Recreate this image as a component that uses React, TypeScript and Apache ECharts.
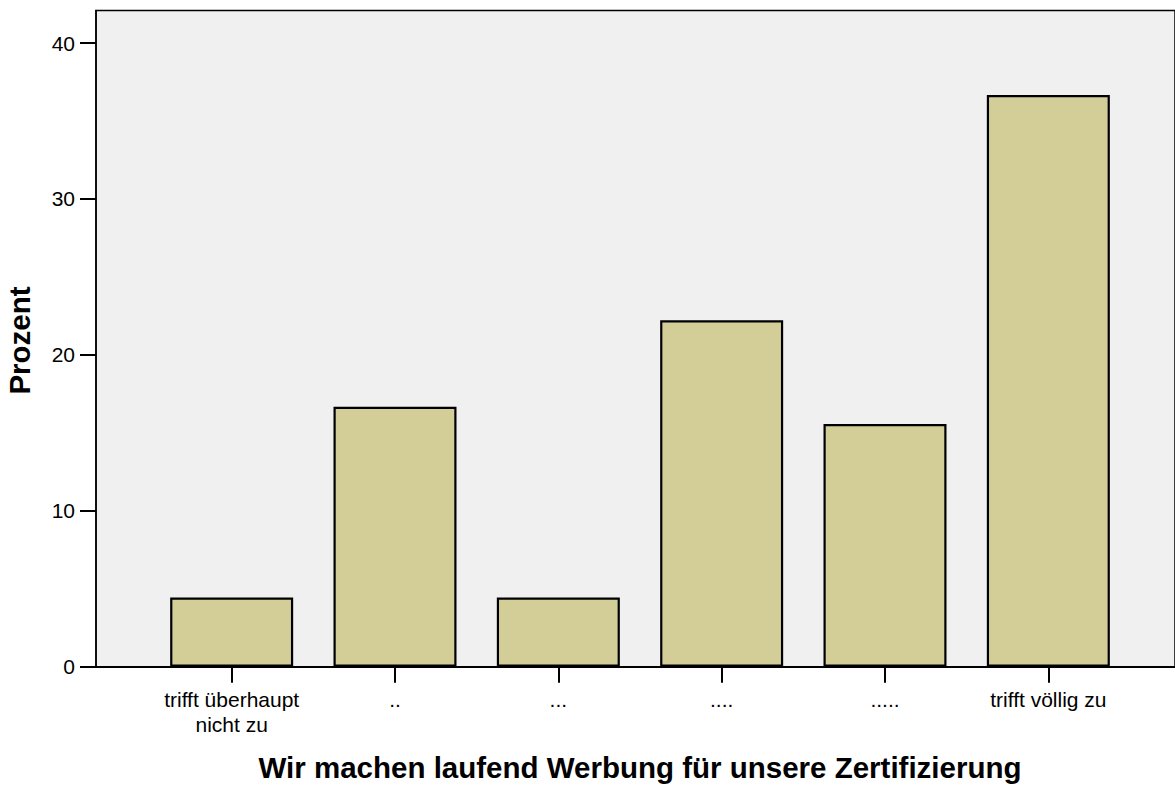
import React, { useEffect, useRef } from "react";
import * as echarts from "echarts";

const categories = [
  "trifft überhaupt\nnicht zu",
  "..",
  "...",
  "....",
  ".....",
  "trifft völlig zu",
];
const percentValues = [4.44, 16.67, 4.44, 22.22, 15.56, 36.67];
const yTickValues = [0, 10, 20, 30, 40];
const yAxisTitle = "Prozent";
const xAxisTitle = "Wir machen laufend Werbung für unsere Zertifizierung";

const FONT = "'Liberation Sans', Arial, Helvetica, sans-serif";
const Y_MAX = 42.09;

export default function App() {
  const ref = useRef<HTMLDivElement>(null);
  useEffect(() => {
    if (!ref.current) return;
    const chart = echarts.init(ref.current, null, { renderer: "svg" });
    chart.setOption({
      animation: false,
      backgroundColor: "#ffffff",
      grid: [
        {
          left: 96,
          top: 10.5,
          width: 1088,
          height: 656.2,
          show: true,
          backgroundColor: "#f0f0f0",
          borderColor: "#000000",
          borderWidth: 1.5,
        },
        {
          left: 150,
          top: 10.5,
          width: 980,
          height: 656.2,
        },
      ],
      xAxis: [
        {
          gridIndex: 0,
          type: "value",
          min: 0,
          max: 1,
          axisLine: { show: true, onZero: false, lineStyle: { color: "#000", width: 2 } },
          axisTick: { show: false },
          axisLabel: { show: false },
          splitLine: { show: false },
        },
        {
          gridIndex: 1,
          type: "category",
          data: categories,
          axisLine: { show: false },
          axisTick: {
            show: true,
            alignWithLabel: true,
            length: 16,
            lineStyle: { color: "#000", width: 2 },
          },
          axisLabel: {
            color: "#000",
            fontFamily: FONT,
            fontSize: 21,
            lineHeight: 25,
            margin: 20,
            interval: 0,
          },
        },
      ],
      yAxis: [
        {
          gridIndex: 0,
          type: "value",
          min: 0,
          max: Y_MAX,
          axisLine: { show: true, lineStyle: { color: "#000", width: 1.5 } },
          axisTick: {
            show: true,
            length: 16,
            customValues: yTickValues,
            lineStyle: { color: "#000", width: 2 },
          },
          axisLabel: {
            color: "#000",
            fontFamily: FONT,
            fontSize: 21,
            margin: 21,
            customValues: yTickValues,
          },
          splitLine: { show: false },
        },
        {
          gridIndex: 1,
          type: "value",
          min: 0,
          max: Y_MAX,
          show: false,
          splitLine: { show: false },
        },
      ],
      series: [
        {
          type: "bar",
          xAxisIndex: 1,
          yAxisIndex: 1,
          data: percentValues,
          barWidth: 123,
          itemStyle: {
            color: "#d3ce98",
            borderColor: "#000000",
            borderWidth: 2.2,
          },
        },
      ],
      graphic: [
        {
          type: "text",
          x: 19,
          y: 340.5,
          rotation: Math.PI / 2,
          style: {
            text: yAxisTitle,
            fontFamily: FONT,
            fontSize: 29.5,
            fontWeight: "bold",
            fill: "#000",
            textAlign: "center",
            textVerticalAlign: "middle",
          },
        },
        {
          type: "text",
          x: 640,
          y: 767,
          style: {
            text: xAxisTitle,
            fontFamily: FONT,
            fontSize: 29.5,
            fontWeight: "bold",
            fill: "#000",
            textAlign: "center",
            textVerticalAlign: "middle",
          },
        },
      ],
    });
    return () => chart.dispose();
  }, []);
  return (
    <div
      ref={ref}
      style={{ position: "fixed", left: 0, top: 0, width: 1175, height: 785 }}
    />
  );
}
